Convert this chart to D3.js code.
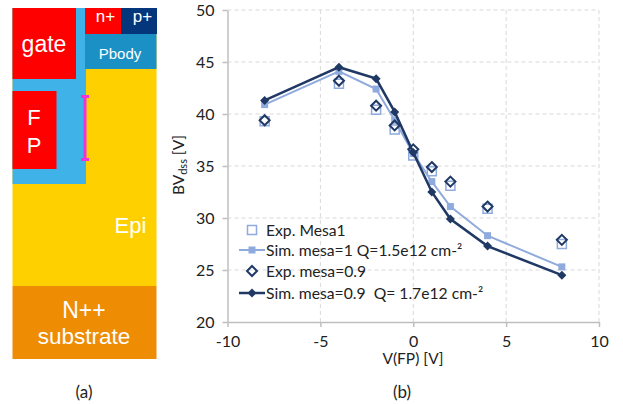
<!DOCTYPE html>
<html>
<head>
<meta charset="utf-8">
<script src="https://cdn.jsdelivr.net/npm/d3@7"></script>
<style>
  html, body { margin: 0; padding: 0; background: #fff; }
  text { font-family: Lato, "Open Sans", sans-serif; fill: #222; }
  .schem text { font-family: "Liberation Sans", Arial, sans-serif; fill: #fff; }
</style>
</head>
<body>
<svg id="fig" width="623" height="404"></svg>
<script>
/* data */
const vfp = [-8, -4, -2, -1, 0, 1, 2, 4, 8]
const expMesa1 = [39.3, 42.9, 40.4, 38.5, 36.0, 34.5, 33.1, 30.9, 27.5]
const simMesa1 = [40.9, 44.1, 42.4, 39.4, 36.2, 33.5, 31.1, 28.3, 25.3]
const expMesa09 = [39.4, 43.2, 40.8, 38.9, 36.6, 34.9, 33.5, 31.1, 27.9]
const simMesa09 = [41.3, 44.5, 43.4, 40.2, 36.3, 32.5, 29.9, 27.3, 24.5]
const xTicks = [-10, -5, 0, 5, 10]
const yTicks = [20, 25, 30, 35, 40, 45, 50]
const legendLabels = ['Exp. Mesa1', 'Sim. mesa=1 Q=1.5e12 cm-²', 'Exp. mesa=0.9', 'Sim. mesa=0.9  Q= 1.7e12 cm-²']

const lightBlue = '#8faadc'
const darkBlue = '#1f3864'

const svg = d3.select('#fig')

/* (a) device cross section */
const schem = svg.append('g').attr('class', 'schem')
const addBox = (x, y, w, h, color) => {
  schem.append('rect').attr('x', x).attr('y', y).attr('width', w).attr('height', h).attr('fill', color)
}
const addLabel = (x, y, size, label) => {
  schem.append('text').attr('x', x).attr('y', y).attr('text-anchor', 'middle')
    .style('font-size', size + 'px').text(label)
}
addBox(12.5, 8, 144, 278, '#ffd000')
addBox(12.5, 286, 144, 73, '#ee8c04')
addBox(12.5, 8, 73.5, 176, '#3fb3e8')
addBox(12.5, 8, 63.5, 71, '#ff0000')
addBox(12.5, 91, 44, 78, '#ff0000')
addBox(85, 8, 36, 26, '#ff0000')
addBox(121, 8, 36, 26, '#03367a')
addBox(85, 34, 71.5, 35, '#1a90c4')
addLabel(44, 52, 23, 'gate')
addLabel(34, 125, 22, 'F')
addLabel(34, 153, 22, 'P')
addLabel(105.5, 22, 17, 'n+')
addLabel(142.5, 22, 17, 'p+')
addLabel(120, 59, 15, 'Pbody')
addLabel(130.5, 233, 22, 'Epi')
addLabel(84, 318, 23, 'N++')
addLabel(84, 344, 22.5, 'substrate')
schem.append('path')
  .attr('d', 'M81 96.5H89M85 96.5V159.5M81 159.5H89')
  .attr('fill', 'none').attr('stroke', '#f032d8').attr('stroke-width', 3)

svg.append('text').attr('x', 84).attr('y', 398).attr('text-anchor', 'middle').style('font-size', '17px').text('(a)')

/* (b) BV vs V(FP) */
const xScale = d3.scaleLinear().domain([-10, 10]).range([227.5, 599])
const yScale = d3.scaleLinear().domain([20, 50]).range([322, 10])

/* grid */
svg.append('g').selectAll('line').data(xTicks.slice(1)).enter().append('line')
  .attr('x1', d => xScale(d)).attr('x2', d => xScale(d))
  .attr('y1', yScale(50)).attr('y2', yScale(20))
  .attr('stroke', '#d9d9d9').attr('stroke-dasharray', '4 3')
svg.append('g').selectAll('line').data(yTicks.slice(1)).enter().append('line')
  .attr('x1', xScale(-10)).attr('x2', xScale(10))
  .attr('y1', d => yScale(d)).attr('y2', d => yScale(d))
  .attr('stroke', '#d9d9d9').attr('stroke-dasharray', '4 3')

/* axes */
const xAxis = d3.axisBottom(xScale).tickValues(xTicks).tickSize(5).tickSizeOuter(0).tickPadding(9).tickFormat(d => String(d))
const yAxis = d3.axisLeft(yScale).tickValues(yTicks).tickSize(5).tickSizeOuter(0).tickPadding(8)
const gx = svg.append('g').attr('transform', 'translate(0,' + yScale(20) + ')').call(xAxis)
const gy = svg.append('g').attr('transform', 'translate(' + xScale(-10) + ',0)').call(yAxis)
;[gx, gy].forEach(g => {
  g.selectAll('path,line').attr('stroke', '#bfbfbf').attr('stroke-width', 1.5)
  g.selectAll('text').style('font-size', '16px').style('font-family', 'Lato, sans-serif').attr('fill', '#222')
})

svg.append('text').attr('x', 413).attr('y', 364).attr('text-anchor', 'middle')
  .style('font-size', '15.5px').text('V(FP) [V]')
const yTitle = svg.append('text').attr('transform', 'translate(184,165) rotate(-90)')
  .attr('text-anchor', 'middle').style('font-size', '15.5px')
yTitle.append('tspan').text('BV')
yTitle.append('tspan').attr('dy', 3).style('font-size', '11px').text('dss')
yTitle.append('tspan').attr('dy', -3).text(' [V]')
svg.append('text').attr('x', 402).attr('y', 398).attr('text-anchor', 'middle').style('font-size', '17px').text('(b)')

/* marks */
const squareGen = d3.symbol().type(d3.symbolSquare)
const diamond = r => 'M0,' + (-r) + 'L' + r + ',0L0,' + r + 'L' + (-r) + ',0Z'

const drawLine = (values, color, w) => {
  const line = d3.line().x((d, i) => xScale(vfp[i])).y(d => yScale(d))
  svg.append('path').attr('d', line(values)).attr('fill', 'none').attr('stroke', color).attr('stroke-width', w)
}
const drawSquares = (values, size, fill, stroke) => {
  svg.append('g').selectAll('path').data(values).enter().append('path')
    .attr('d', squareGen.size(size * size)())
    .attr('transform', (d, i) => 'translate(' + xScale(vfp[i]) + ',' + yScale(d) + ')')
    .attr('fill', fill).attr('stroke', stroke).attr('stroke-width', 1.5)
}
const drawDiamonds = (values, r, fill, stroke) => {
  svg.append('g').selectAll('path').data(values).enter().append('path')
    .attr('d', diamond(r))
    .attr('transform', (d, i) => 'translate(' + xScale(vfp[i]) + ',' + yScale(d) + ')')
    .attr('fill', fill).attr('stroke', stroke).attr('stroke-width', 2)
}

drawSquares(expMesa1, 9, 'none', lightBlue)
drawLine(simMesa1, lightBlue, 2)
drawSquares(simMesa1, 7, lightBlue, 'none')
drawDiamonds(expMesa09, 5, 'none', darkBlue)
drawLine(simMesa09, darkBlue, 2.5)
drawDiamonds(simMesa09, 4.5, darkBlue, 'none')

/* legend */
const legendY = [230, 250, 271, 293]
const legend = svg.append('g')
legendLabels.forEach((label, i) => {
  legend.append('text').attr('x', 266).attr('y', legendY[i] + 5.5)
    .attr('xml:space', 'preserve').style('white-space', 'pre')
    .style('font-size', '15.7px').text(label)
})
legend.append('path').attr('d', squareGen.size(81)()).attr('transform', 'translate(252,' + legendY[0] + ')')
  .attr('fill', 'none').attr('stroke', lightBlue).attr('stroke-width', 1.5)
legend.append('line').attr('x1', 239).attr('x2', 265).attr('y1', legendY[1]).attr('y2', legendY[1])
  .attr('stroke', lightBlue).attr('stroke-width', 2)
legend.append('path').attr('d', squareGen.size(49)()).attr('transform', 'translate(252,' + legendY[1] + ')')
  .attr('fill', lightBlue)
legend.append('path').attr('d', diamond(5)).attr('transform', 'translate(252,' + legendY[2] + ')')
  .attr('fill', 'none').attr('stroke', darkBlue).attr('stroke-width', 2)
legend.append('line').attr('x1', 239).attr('x2', 265).attr('y1', legendY[3]).attr('y2', legendY[3])
  .attr('stroke', darkBlue).attr('stroke-width', 2.5)
legend.append('path').attr('d', diamond(4.5)).attr('transform', 'translate(252,' + legendY[3] + ')')
  .attr('fill', darkBlue)
</script>
</body>
</html>
